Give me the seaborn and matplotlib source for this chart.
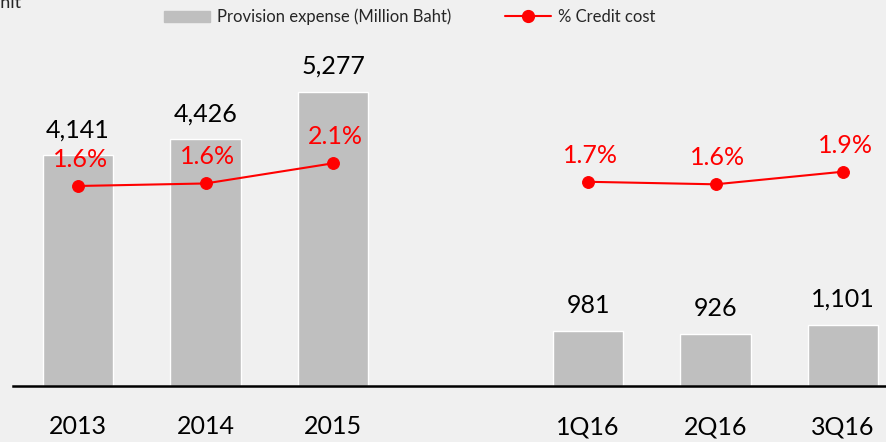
import matplotlib
matplotlib.use("Agg")
import matplotlib.pyplot as plt
import seaborn as sns
import pandas as pd

# data
periods = ["2013", "2014", "2015", "1Q16", "2Q16", "3Q16"]
provision = [4141, 4426, 5277, 981, 926, 1101]
credit_cost = [1.56, 1.62, 2.10, 1.66, 1.60, 1.90]
segments = ["annual", "annual", "annual", "quarter", "quarter", "quarter"]
order = ["2013", "2014", "2015", "", "1Q16", "2Q16", "3Q16"]

df = pd.DataFrame({"period": periods, "provision": provision,
                   "credit_cost": credit_cost, "segment": segments})
df["pos"] = [order.index(p) for p in df["period"]]

sns.set_style("white")
plt.rcParams["font.family"] = ["Lato", "DejaVu Sans"]

bg = "#f0f0f0"
fig = plt.figure(figsize=(8.87, 4.42), dpi=100, facecolor=bg)
ax = fig.add_axes([13 / 887, 56 / 442, 1 - 13 / 887, 1 - 56 / 442])
ax.set_facecolor("none")

sns.barplot(data=df, x="period", y="provision", order=order,
            color="#bfbfbf", saturation=1, width=0.55, ax=ax)
ax.set_xlim(-0.51, 6.345)
ax.set_ylim(0, 6929)
ax.set_xlabel("")
ax.set_ylabel("")
ax.set_yticks([])
for s in ["top", "left", "right"]:
    ax.spines[s].set_visible(False)
ax.spines["bottom"].set_linewidth(1.8)
ax.spines["bottom"].set_color("black")
ax.tick_params(axis="x", length=0, pad=21, labelsize=18, labelcolor="black")

for _, r in df.iterrows():
    ax.annotate(f"{r['provision']:,}", (r["pos"], r["provision"]),
                xytext=(0, 18), textcoords="offset pixels",
                ha="center", va="baseline", fontsize=18, color="black")

ax2 = ax.twinx()
ax2.set_facecolor("none")
for seg, g in df.groupby("segment"):
    sns.lineplot(data=g, x="pos", y="credit_cost", color="red", lw=1.5,
                 marker="o", markersize=8.5, markeredgecolor="red", ax=ax2,
                 legend=False)
ax2.set_ylim(-3.202, 5.988)
ax2.set_yticks([])
ax2.set_ylabel("")
ax2.set_xlabel("")
for s in ax2.spines.values():
    s.set_visible(False)

for _, r in df.iterrows():
    ax2.annotate(f"{r['credit_cost']:.1f}%", (r["pos"], r["credit_cost"]),
                 xytext=(2, 19), textcoords="offset pixels",
                 ha="center", va="baseline", fontsize=18, color="red")

# legend
h_bar = plt.Rectangle((0, 0), 1, 1, color="#bfbfbf")
h_line = plt.Line2D([], [], color="red", lw=1.5, marker="o", markersize=8.5)
fig.legend([h_bar, h_line], ["Provision expense (Million Baht)", "% Credit cost"],
           ncol=2, loc="center", bbox_to_anchor=(0.462, 1 - 17 / 442),
           frameon=False, fontsize=12, handlelength=2.76, handletextpad=0.42,
           columnspacing=3.2)

fig.text(22 / 887, 1 - 8 / 442, "Unit", ha="right", va="baseline", fontsize=13)

fig.savefig("out.png", dpi=100, facecolor=bg)
